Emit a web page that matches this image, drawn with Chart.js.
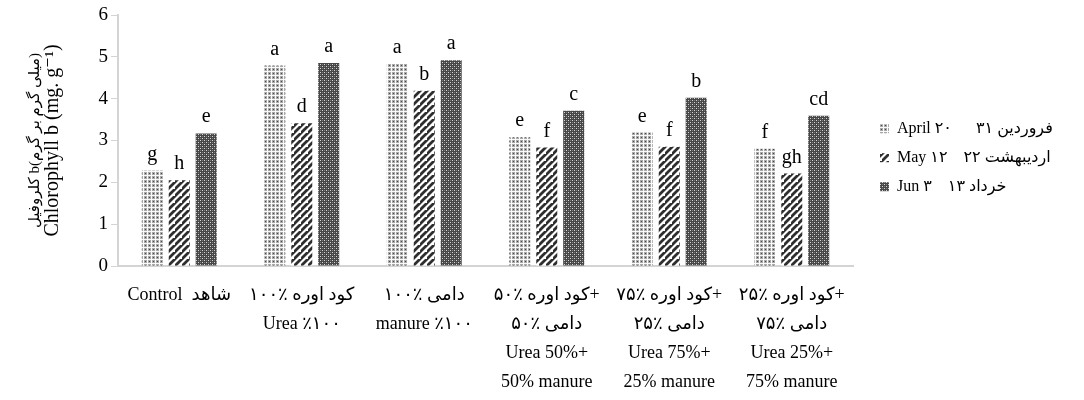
<!DOCTYPE html>
<html>
<head>
<meta charset="utf-8">
<script src="https://cdn.jsdelivr.net/npm/chart.js@4"></script>
<style>
html, body { margin: 0; padding: 0; background: #fff; }
</style>
</head>
<body>
<canvas id="myChart" width="1084" height="400"></canvas>
<script>
const LRM = '\u200E';
// categories (treatments), each label split in lines
const categories = [
  ['Control  شاهد'],
  [LRM + '۱۰۰٪ کود اوره', 'Urea ٪۱۰۰'],
  [LRM + '۱۰۰٪ دامی', 'manure ٪۱۰۰'],
  [LRM + '۵۰٪ کود اوره+', LRM + '۵۰٪ دامی', 'Urea 50%+', '50% manure'],
  [LRM + '۷۵٪ کود اوره+', LRM + '۲۵٪ دامی', 'Urea 75%+', '25% manure'],
  [LRM + '۲۵٪ کود اوره+', LRM + '۷۵٪ دامی', 'Urea 25%+', '75% manure']
];
const seriesNames = [
  'April ۲۰      ۳۱ فروردین',
  'May ۱۲    ۲۲ اردیبهشت',
  'Jun ۳    ۱۳ خرداد'
];
const aprilValues = [2.28, 4.79, 4.83, 3.08, 3.19, 2.80];
const mayValues   = [2.05, 3.41, 4.19, 2.83, 2.85, 2.21];
const junValues   = [3.17, 4.85, 4.92, 3.71, 4.02, 3.59];
const aprilLetters = ['g', 'a', 'a', 'e', 'e', 'f'];
const mayLetters   = ['h', 'd', 'b', 'f', 'f', 'gh'];
const junLetters   = ['e', 'a', 'a', 'c', 'b', 'cd'];
const yTicks = [0, 1, 2, 3, 4, 5, 6];
const yTitleFa = LRM + 'کلروفیل b(میلی گرم بر گرم)';
const yTitleEn = 'Chlorophyll b (mg. g⁻¹)';

const serif = "'Liberation Serif', 'DejaVu Sans', serif";

// fill patterns
function dots(){
  const c = document.createElement('canvas'); c.width = 4; c.height = 4;
  const g = c.getContext('2d');
  g.fillStyle = '#fafafa'; g.fillRect(0, 0, 4, 4);
  g.fillStyle = '#a8a8a8'; g.fillRect(0, 0, 3, 3);
  g.fillStyle = '#484848'; g.fillRect(1, 1, 1, 1);
  return g.createPattern(c, 'repeat');
}
function stripes(){
  const s = 7;
  const c = document.createElement('canvas'); c.width = s; c.height = s;
  const g = c.getContext('2d');
  g.fillStyle = '#ffffff'; g.fillRect(0, 0, s, s);
  g.strokeStyle = '#2e2e2e'; g.lineWidth = 2.8;
  g.beginPath();
  g.moveTo(-1, s + 1); g.lineTo(s + 1, -1);
  g.moveTo(-1 - s, s + 1); g.lineTo(1, -1);
  g.moveTo(s - 1, 2 * s + 1); g.lineTo(2 * s + 1, s - 1);
  g.stroke();
  return g.createPattern(c, 'repeat');
}
function dense(){
  const c = document.createElement('canvas'); c.width = 4; c.height = 4;
  const g = c.getContext('2d');
  g.fillStyle = '#474747'; g.fillRect(0, 0, 4, 4);
  g.fillStyle = '#d8d8d8'; g.fillRect(0, 0, 1, 1); g.fillRect(2, 2, 1, 1);
  g.fillStyle = '#7a7a7a'; g.fillRect(2, 0, 1, 1); g.fillRect(0, 2, 1, 1);
  return g.createPattern(c, 'repeat');
}

// significance letters above the bars
const lettersPlugin = {
  id: 'letters',
  afterDatasetsDraw(chart){
    const ctx = chart.ctx;
    ctx.save();
    ctx.font = "20px 'Liberation Serif'";
    ctx.fillStyle = '#000';
    ctx.textAlign = 'center';
    ctx.textBaseline = 'alphabetic';
    chart.data.datasets.forEach((ds, i) => {
      chart.getDatasetMeta(i).data.forEach((bar, j) => {
        ctx.fillText(ds.letters[j], bar.x, bar.y - 11);
      });
    });
    ctx.restore();
  }
};

// legend: fixed width on the right, items a bit away from the plot
const legendFix = {
  id: 'legendFix',
  beforeLayout(chart){
    const lg = chart.legend;
    if (lg && !lg._fixed){
      const fit = lg.fit;
      lg.fit = function(){ fit.call(this); this.width = 231; };
      lg._fixed = true;
    }
  },
  afterLayout(chart){
    chart.legend.left += 14;
    chart.legend.right += 14;
  }
};

const ctx = document.getElementById('myChart').getContext('2d');
const myChart = new Chart(ctx, {
  type: 'bar',
  data: {
    labels: categories,
    datasets: [
      { label: seriesNames[0], data: aprilValues, letters: aprilLetters, backgroundColor: dots() },
      { label: seriesNames[1], data: mayValues, letters: mayLetters, backgroundColor: stripes() },
      { label: seriesNames[2], data: junValues, letters: junLetters, backgroundColor: dense() }
    ]
  },
  options: {
    responsive: false,
    animation: false,
    categoryPercentage: 0.66,
    barPercentage: 0.78,
    layout: { padding: { top: 15, left: 0, right: 0, bottom: 4 } },
    plugins: {
      tooltip: { enabled: false },
      legend: {
        position: 'right',
        fullSize: false,
        title: { display: true, text: ' ', padding: 10, font: { size: 12 } },
        labels: {
          boxWidth: 9, boxHeight: 9, padding: 13, color: '#000',
          font: { family: serif, size: 16 }
        }
      }
    },
    scales: {
      x: {
        afterFit(scale){ scale.height = 130; },
        grid: { display: false, drawTicks: false },
        border: { display: true, color: '#d4d4d4', width: 2 },
        ticks: {
          color: '#000', padding: 15, autoSkip: false, maxRotation: 0,
          font: { family: serif, size: 18, lineHeight: 1.6 }
        }
      },
      y: {
        min: 0, max: 6,
        weight: 0,
        afterFit(scale){ scale.width = 77; },
        afterBuildTicks(scale){ scale.ticks = yTicks.map(v => ({ value: v })); },
        grid: { drawOnChartArea: false, drawTicks: true, tickLength: 7, color: '#d4d4d4', width: 2 },
        border: { display: true, color: '#d4d4d4', width: 2 },
        ticks: { color: '#000', padding: 3, font: { family: serif, size: 19 } },
        title: {
          display: true, text: yTitleEn, color: '#000',
          padding: { top: 0, bottom: 0 },
          font: { family: serif, size: 20 }
        }
      },
      yFa: {
        type: 'linear', position: 'left', weight: 1,
        min: 0, max: 6,
        afterFit(scale){ scale.width = 41; },
        grid: { display: false },
        border: { display: false },
        ticks: { display: false },
        title: {
          display: true, text: yTitleFa, color: '#000',
          padding: { top: 26, bottom: 0 },
          font: { family: serif, size: 15 }
        }
      }
    }
  },
  plugins: [lettersPlugin, legendFix]
});
</script>
</body>
</html>
